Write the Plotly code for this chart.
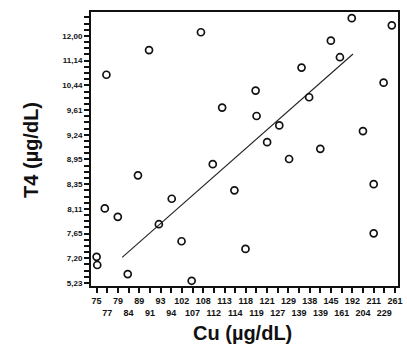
import plotly.graph_objects as go

# x-axis category labels (Cu, µg/dL) in axis order
cu_labels = ["75", "77", "79", "84", "89", "91", "93", "94", "102", "107", "108", "112",
             "113", "114", "118", "119", "121", "127", "129", "139", "138", "139", "145",
             "161", "192", "204", "211", "229", "261"]
# y-axis labels (T4, µg/dL) in axis order from bottom
t4_labels = ["5,23", "7,20", "7,65", "8,11", "8,35", "8,95", "9,24", "9,61", "10,44", "11,14", "12,00"]

# points, in axis position units
cu_pos = [0.00, 0.06, 0.77, 0.92, 1.99, 2.92, 3.88, 4.92, 5.84, 7.05, 7.97, 8.92, 9.79,
          10.90, 11.78, 12.93, 13.97, 14.92, 15.01, 16.00, 17.14, 18.06, 19.23, 19.94,
          20.99, 21.98, 22.83, 23.94, 24.99, 26.00, 26.00, 26.93, 27.70]
t4_pos = [1.06, 0.73, 3.02, 8.43, 2.68, 0.36, 4.36, 9.43, 2.38, 3.41, 1.69, 0.09, 10.15,
          4.81, 7.10, 3.75, 1.38, 7.79, 6.76, 5.70, 6.38, 5.02, 8.72, 7.52, 5.43, 9.81,
          9.14, 10.72, 6.15, 4.00, 2.01, 8.11, 10.43]

# trend line end points
trend_x = [2.40, 24.06]
trend_y = [1.04, 9.27]

x_text = [lab if i % 2 == 0 else "<br>" + lab for i, lab in enumerate(cu_labels)]

fig = go.Figure()
fig.add_trace(go.Scatter(x=trend_x, y=trend_y, mode="lines",
                         line=dict(color="#222", width=1.1), hoverinfo="skip"))
fig.add_trace(go.Scatter(x=cu_pos, y=t4_pos, mode="markers",
                         marker=dict(symbol="circle-open", size=7, color="#111",
                                     line=dict(width=1.7, color="#111"))))

fig.update_layout(
    width=407, height=348,
    margin=dict(l=91, r=4, t=12, b=62),
    paper_bgcolor="white", plot_bgcolor="white",
    showlegend=False,
    font=dict(family="Liberation Sans, Arial, sans-serif", color="#111"),
    xaxis=dict(range=[-0.526, 28.28], tickmode="array",
               tickvals=list(range(len(cu_labels))), ticktext=x_text,
               ticks="outside", ticklen=5, tickwidth=1.5, tickcolor="#111",
               showline=True, linewidth=2, linecolor="#111", mirror=True,
               showgrid=False, zeroline=False,
               tickfont=dict(size=9, weight="bold"), tickangle=0),
    yaxis=dict(range=[-0.121, 10.97], tickmode="array",
               tickvals=list(range(len(t4_labels))), ticktext=t4_labels,
               ticks="outside", ticklen=5, tickwidth=1.5, tickcolor="#111",
               minor=dict(tickmode="linear", tick0=0, dtick=0.25, ticks="outside",
                          ticklen=5, tickwidth=1.5, tickcolor="#111", showgrid=False),
               showline=True, linewidth=2, linecolor="#111", mirror=True,
               showgrid=False, zeroline=False,
               tickfont=dict(size=8, weight="bold")),
    annotations=[
        dict(text="Cu (µg/dL)", xref="paper", yref="paper", x=0.494, y=-0.172,
             xanchor="center", yanchor="middle", showarrow=False,
             font=dict(size=20, weight="bold")),
        dict(text="T4 (µg/dL)", xref="paper", yref="paper", x=-0.196, y=0.496,
             xanchor="center", yanchor="middle", showarrow=False, textangle=-90,
             font=dict(size=20, weight="bold")),
    ],
)

fig.write_html("out.html")
